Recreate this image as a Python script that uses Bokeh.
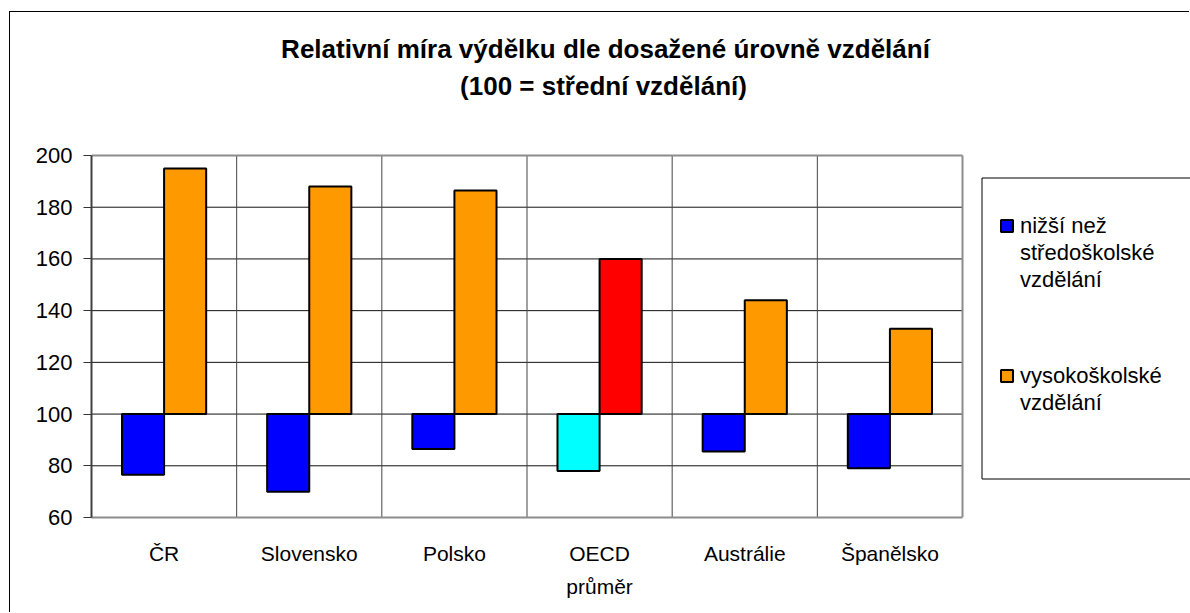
from bokeh.plotting import figure
from bokeh.models import (Range1d, FixedTicker, Legend, LegendItem, Label,
                          BoxAnnotation, ColumnDataSource)
from bokeh.embed import file_html
from bokeh.resources import INLINE

# ---- data ----
categories = ["ČR", "Slovensko", "Polsko", "OECD\nprůměr", "Austrálie", "Španělsko"]
lower_values = [76.5, 70, 86.5, 78, 85.5, 79]
upper_values = [195, 188, 186.5, 160, 144, 133]
lower_colors = ["#0000FF", "#0000FF", "#0000FF", "#00FFFF", "#0000FF", "#0000FF"]
upper_colors = ["#FF9900", "#FF9900", "#FF9900", "#FF0000", "#FF9900", "#FF9900"]
lower_name_lines = ["nižší než", "středoškolské", "vzdělání"]
upper_name_lines = ["vysokoškolské", "vzdělání"]
baseline = 100
y_ticks = [60, 80, 100, 120, 140, 160, 180, 200]
title_lines = ["Relativní míra výdělku dle dosažené úrovně vzdělání",
               "(100 = střední vzdělání)"]

# ---- layout constants (pixels) ----
FONT = "Liberation Sans"
OFF_X, OFF_Y = 10, 12            # canvas offset inside the outer chart border
W, H = 1190 - OFF_X, 613 - OFF_Y
PLOT_L, PLOT_R, PLOT_T, PLOT_B = 91, 962, 155, 517   # plot area in page pixels
frame_left = PLOT_L - OFF_X
frame_bottom = PLOT_B - OFF_Y
frame_w = W - frame_left
frame_h = frame_bottom
n = len(categories)
y0, y1 = y_ticks[0], y_ticks[-1]
x_end = n * frame_w / (PLOT_R - PLOT_L)
y_end = y0 + (y1 - y0) * frame_h / (PLOT_B - PLOT_T)

idx = list(range(n))
bw = 0.29

p = figure(width=W, height=H, output_backend="svg", toolbar_location=None,
           x_range=Range1d(0, x_end), y_range=Range1d(y0, y_end),
           min_border_left=frame_left, min_border_right=0,
           min_border_top=0, min_border_bottom=H - frame_bottom)
p.margin = (OFF_Y, 0, 0, OFF_X)
p.styles = {"box-shadow": "-1px -1px 0 0 #000000"}
p.background_fill_color = "white"
p.border_fill_color = "white"
p.outline_line_color = None
p.xgrid.visible = False
p.ygrid.visible = False

# grid lines of the plot area
inner_y = y_ticks[1:-1]
p.segment(x0=[0] * len(inner_y), x1=[n] * len(inner_y), y0=inner_y, y1=inner_y,
          line_color="#111111", line_width=1)
sep_x = list(range(1, n))
p.segment(x0=sep_x, x1=sep_x, y0=[y0] * len(sep_x), y1=[y1] * len(sep_x),
          line_color="#444444", line_width=1)
# top and right edges of the plot area
p.segment(x0=[0, n], x1=[n, n], y0=[y1, y0], y1=[y1, y1],
          line_color="#8c8c8c", line_width=2)

src_lo = ColumnDataSource(dict(x=[i + 0.5 - bw / 2 for i in idx], top=lower_values,
                               bottom=[baseline] * n, color=lower_colors))
src_up = ColumnDataSource(dict(x=[i + 0.5 + bw / 2 for i in idx], top=upper_values,
                               bottom=[baseline] * n, color=upper_colors))
r_lo = p.vbar(x="x", top="top", bottom="bottom", width=bw, fill_color="color",
              line_color="black", line_width=2, source=src_lo)
r_up = p.vbar(x="x", top="top", bottom="bottom", width=bw, fill_color="color",
              line_color="black", line_width=2, source=src_up)

# y axis
p.yaxis.ticker = FixedTicker(ticks=y_ticks)
p.yaxis.bounds = (y0, y1)
p.yaxis.major_label_text_font = FONT
p.yaxis.major_label_text_font_size = "22px"
p.yaxis.major_label_text_color = "black"
p.yaxis.major_tick_out = 8
p.yaxis.major_tick_in = 0
p.yaxis.minor_tick_out = 0
p.yaxis.minor_tick_in = 0
p.yaxis.major_tick_line_color = "#333333"
p.yaxis.axis_line_color = "#404040"
p.yaxis.axis_line_width = 2
p.yaxis.major_label_standoff = 11

# x axis
p.xaxis.ticker = FixedTicker(ticks=[i + 0.5 for i in idx])
p.xaxis.bounds = (0, n)
p.xaxis.major_label_overrides = {i + 0.5: c for i, c in zip(idx, categories)}
p.xaxis.major_label_text_font = FONT
p.xaxis.major_label_text_font_size = "21px"
p.xaxis.major_label_text_color = "black"
p.xaxis.major_label_text_line_height = 1.45
p.xaxis.major_tick_out = 0
p.xaxis.major_tick_in = 0
p.xaxis.minor_tick_out = 0
p.xaxis.minor_tick_in = 0
p.xaxis.axis_line_color = "#8c8c8c"
p.xaxis.axis_line_width = 2
p.xaxis.major_label_standoff = 24

# title (screen units relative to the frame's bottom-left corner)
for txt, cx, base in zip(title_lines, [605, 603], [48.5, 85.5]):
    p.add_layout(Label(x=cx - PLOT_L, y=PLOT_B - base, x_units="screen", y_units="screen",
                       text=txt, text_align="center", text_baseline="alphabetic",
                       text_font=FONT, text_font_size="26px",
                       text_font_style="bold", text_color="black"))

# legend frame (canvas pixels)
LEG_L, LEG_T, LEG_B = 981, 177, 478
p.add_layout(BoxAnnotation(left=LEG_L - OFF_X + 0.5, right=W + 50,
                           top=LEG_T - OFF_Y + 0.5, bottom=LEG_B - OFF_Y + 0.5,
                           left_units="canvas", right_units="canvas",
                           top_units="canvas", bottom_units="canvas",
                           fill_color="white", fill_alpha=1,
                           line_color="black", line_alpha=1, line_width=1))

# legend entries: glyph on first line only
LINE_H = 27
def make_legend(lines, renderer, top_px):
    items = [LegendItem(label=lines[0], renderers=[renderer])]
    items += [LegendItem(label=t, renderers=[]) for t in lines[1:]]
    bottom_px = top_px + LINE_H * len(lines)
    return Legend(items=items, location=(999 - PLOT_L, PLOT_B - bottom_px),
                  orientation="vertical", border_line_color=None,
                  background_fill_alpha=0, padding=0, spacing=0, margin=0,
                  glyph_width=15, glyph_height=15, label_standoff=6,
                  label_height=LINE_H, label_width=150,
                  label_text_font=FONT, label_text_font_size="22px",
                  label_text_color="black")

p.add_layout(make_legend(lower_name_lines, r_lo, 212), "center")
p.add_layout(make_legend(upper_name_lines, r_up, 362), "center")

open("out.html", "w").write(file_html(p, INLINE))
